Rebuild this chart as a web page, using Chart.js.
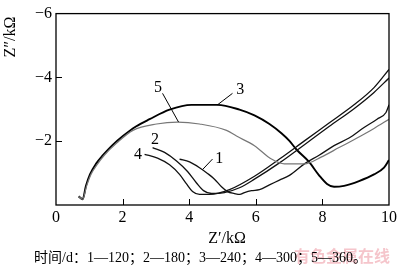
<!DOCTYPE html>
<html lang="zh">
<head>
    <meta charset="UTF-8">
    <title>Impedance (Nyquist) plot</title>
    <script src="https://cdn.jsdelivr.net/npm/chart.js"></script>
    <style>
        body {
            margin: 0;
            padding: 0;
            background-color: #ffffff;
        }
    </style>
</head>
<body>
    <canvas id="eisChart" width="400" height="273"></canvas>

    <script>
        // Z' (kΩ) and Z'' (kΩ), one pair of arrays per curve
        const curve1Re = [3.71, 4.01, 4.31, 4.55, 4.76, 4.97, 5.15, 5.36, 5.52, 5.66, 5.87, 6.11, 6.41, 6.71, 7.01, 7.46, 7.90, 8.35, 8.80, 9.25, 9.64, 9.91, 10.0];
        const curve1Im = [-1.44, -1.35, -1.17, -0.99, -0.81, -0.57, -0.42, -0.36, -0.33, -0.39, -0.45, -0.48, -0.63, -0.78, -0.93, -1.29, -1.56, -1.86, -2.10, -2.43, -2.69, -2.90, -3.14];

        const curve2Re = [2.90, 3.26, 3.62, 3.95, 4.22, 4.43, 4.67, 5.06, 5.51, 5.96, 6.71, 7.46, 8.20, 8.95, 9.55, 10.0];
        const curve2Im = [-1.80, -1.65, -1.38, -1.05, -0.69, -0.45, -0.36, -0.39, -0.54, -0.81, -1.32, -1.89, -2.46, -3.02, -3.53, -3.98];

        const curve3Re = [0.68, 0.80, 0.90, 1.02, 1.20, 1.41, 1.68, 2.01, 2.40, 2.81, 3.41, 4.07, 4.85, 5.51, 5.96, 6.41, 6.77, 7.01, 7.22, 7.60, 7.90, 8.14, 8.35, 8.65, 9.10, 9.55, 9.85, 10.0];
        const curve3Im = [-0.27, -0.18, -0.60, -0.96, -1.29, -1.56, -1.86, -2.16, -2.46, -2.69, -2.99, -3.14, -3.14, -2.99, -2.81, -2.54, -2.25, -2.01, -1.74, -1.35, -0.93, -0.66, -0.57, -0.60, -0.75, -0.96, -1.17, -1.41];

        const curve4Re = [2.66, 3.05, 3.41, 3.71, 3.92, 4.10, 4.31, 4.61, 5.21, 5.96, 6.71, 7.46, 8.20, 8.95, 9.55, 10.0];
        const curve4Im = [-1.59, -1.47, -1.26, -0.96, -0.66, -0.42, -0.33, -0.33, -0.48, -0.90, -1.44, -2.01, -2.57, -3.14, -3.68, -4.25];

        const curve5Re = [0.68, 0.80, 0.92, 1.05, 1.25, 1.45, 1.83, 2.31, 3.02, 3.65, 4.31, 5.12, 5.42, 5.96, 6.47, 6.86, 7.46, 7.96, 8.50, 9.04, 9.55, 10.0];
        const curve5Im = [-0.27, -0.18, -0.60, -0.96, -1.29, -1.56, -1.95, -2.34, -2.54, -2.60, -2.54, -2.34, -2.16, -1.86, -1.44, -1.29, -1.29, -1.50, -1.80, -2.10, -2.40, -2.69];

        // curve numbers written on the plot, with their leader lines
        const curveNames = ['1', '2', '3', '4', '5'];
        const nameRe = [4.90, 2.97, 5.53, 2.46, 3.06];
        const nameIm = [-1.45, -2.04, -3.60, -1.56, -3.68];
        const leaderFromRe = [4.70, null, 5.30, null, 3.20];
        const leaderFromIm = [-1.44, null, -3.50, null, -3.50];
        const leaderToRe = [4.40, null, 4.85, null, 3.68];
        const leaderToIm = [-1.11, null, -3.14, null, -2.60];

        const xTitle = 'Z\u2032/k\u03A9';
        const yTitle = 'Z\u2033/k\u03A9';
        const caption = '时间/d：1—120；2—180；3—240；4—300；5—360。';
        const watermark = '有色金属在线';

        const serif = '"Liberation Serif", "DejaVu Serif", serif';

        function toPoints(re, im) {
            return re.map((x, i) => ({ x: x, y: im[i] }));
        }

        // frame, inward ticks, curve numbers and all the free text
        const decorPlugin = {
            id: 'decor',
            afterDraw(chart) {
                const ctx = chart.ctx;
                const area = chart.chartArea;
                const xs = chart.scales.x;
                const ys = chart.scales.y;

                ctx.save();
                ctx.strokeStyle = '#000';
                ctx.lineWidth = 1.3;
                ctx.strokeRect(area.left, area.top, area.right - area.left, area.bottom - area.top);

                // ticks pointing into the plot
                ctx.lineWidth = 1;
                xs.ticks.forEach(t => {
                    if (t.value <= xs.min || t.value >= xs.max) return;
                    const px = Math.round(xs.getPixelForValue(t.value)) + 0.5;
                    ctx.beginPath();
                    ctx.moveTo(px, area.bottom);
                    ctx.lineTo(px, area.bottom - 6);
                    ctx.stroke();
                });
                ys.ticks.forEach(t => {
                    if (t.value <= ys.min || t.value >= ys.max) return;
                    const py = Math.round(ys.getPixelForValue(t.value)) + 0.5;
                    ctx.beginPath();
                    ctx.moveTo(area.left, py);
                    ctx.lineTo(area.left + 6, py);
                    ctx.stroke();
                });

                // curve numbers
                ctx.fillStyle = '#000';
                ctx.font = '16px ' + serif;
                ctx.textAlign = 'center';
                ctx.textBaseline = 'middle';
                curveNames.forEach((name, i) => {
                    ctx.fillText(name, xs.getPixelForValue(nameRe[i]), ys.getPixelForValue(nameIm[i]));
                    if (leaderFromRe[i] !== null) {
                        ctx.beginPath();
                        ctx.moveTo(xs.getPixelForValue(leaderFromRe[i]), ys.getPixelForValue(leaderFromIm[i]));
                        ctx.lineTo(xs.getPixelForValue(leaderToRe[i]), ys.getPixelForValue(leaderToIm[i]));
                        ctx.stroke();
                    }
                });

                // axis titles
                ctx.fillText(xTitle, 227, 239);
                ctx.save();
                ctx.translate(11, 37);
                ctx.rotate(-Math.PI / 2);
                ctx.fillText(yTitle, 0, 0);
                ctx.restore();

                // watermark then caption
                ctx.font = 'bold 16px "Noto Sans CJK SC", sans-serif';
                ctx.fillStyle = 'rgba(236, 150, 160, 0.55)';
                ctx.textAlign = 'left';
                ctx.fillText(watermark, 294, 256);

                ctx.font = '14px ' + serif + ', "Noto Sans CJK SC"';
                ctx.fillStyle = '#000';
                ctx.fillText(caption, 34, 258);
                ctx.restore();
            }
        };

        function lineSet(re, im, color, width) {
            return {
                data: toPoints(re, im),
                showLine: true,
                borderColor: color,
                borderWidth: width,
                pointRadius: 0,
                cubicInterpolationMode: 'monotone',
                fill: false
            };
        }

        const ctx = document.getElementById('eisChart').getContext('2d');
        new Chart(ctx, {
            type: 'scatter',
            data: {
                datasets: [
                    lineSet(curve5Re, curve5Im, '#777777', 1.2),
                    lineSet(curve1Re, curve1Im, '#111111', 1.3),
                    lineSet(curve2Re, curve2Im, '#111111', 1.3),
                    lineSet(curve4Re, curve4Im, '#111111', 1.3),
                    lineSet(curve3Re, curve3Im, '#000000', 1.9)
                ]
            },
            options: {
                responsive: false,
                animation: false,
                devicePixelRatio: 1,
                layout: { padding: { top: 5, right: 10, left: 0, bottom: 0 } },
                plugins: {
                    legend: { display: false },
                    tooltip: { enabled: false }
                },
                scales: {
                    x: {
                        type: 'linear',
                        min: 0,
                        max: 10,
                        ticks: {
                            stepSize: 2,
                            color: '#000',
                            padding: 3,
                            maxRotation: 0,
                            font: { family: serif, size: 16 }
                        },
                        grid: { display: false, drawTicks: false },
                        border: { display: false },
                        afterFit: scale => { scale.height = 68; }
                    },
                    y: {
                        type: 'linear',
                        min: -6,
                        max: 0,
                        reverse: true,
                        ticks: {
                            stepSize: 2,
                            color: '#000',
                            padding: 4,
                            font: { family: serif, size: 16 },
                            callback: v => (v === 0 ? '' : '\u2212' + Math.abs(v))
                        },
                        grid: { display: false, drawTicks: false },
                        border: { display: false },
                        afterFit: scale => { scale.width = 56; }
                    }
                }
            },
            plugins: [decorPlugin]
        });
    </script>
</body>
</html>
